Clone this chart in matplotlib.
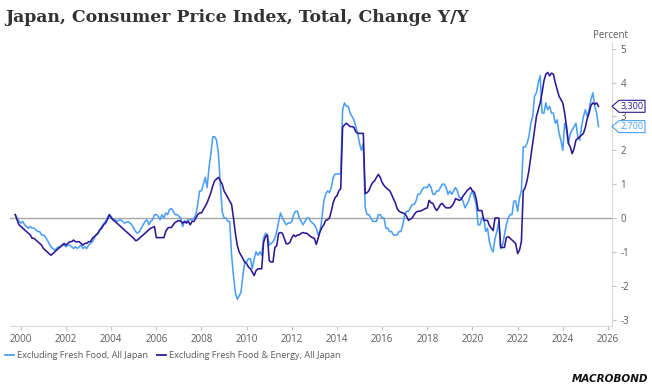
import matplotlib
matplotlib.use("Agg")
import matplotlib.pyplot as plt
import numpy as np
from matplotlib.patches import Polygon
from matplotlib.lines import Line2D

# ---------------- data (monthly, Oct 1999 .. Aug 2025) ----------------
start_year, start_month = 1999, 10

ex_fresh_food = [
    0.1, 0.0, -0.1,
    -0.15, -0.1, -0.2, -0.25, -0.3, -0.25, -0.3, -0.3, -0.35, -0.4, -0.4, -0.5,
    -0.5, -0.55, -0.65, -0.75, -0.85, -0.9, -0.95, -0.9, -0.85, -0.85, -0.8, -0.8,
    -0.85, -0.8, -0.8, -0.85, -0.9, -0.85, -0.9, -0.85, -0.8, -0.9, -0.85, -0.9,
    -0.8, -0.75, -0.7, -0.6, -0.5, -0.45, -0.35, -0.25, -0.17, -0.1, 0.0, 0.1,
    0.05, -0.05, -0.05, -0.1, -0.07, -0.05, -0.1, -0.15, -0.13, -0.1, -0.15, -0.2,
    -0.3, -0.4, -0.45, -0.4, -0.3, -0.2, -0.1, -0.05, -0.2, -0.1, -0.05, 0.1,
    0.1, 0.05, -0.05, 0.1, 0.0, 0.15, 0.1, 0.25, 0.28, 0.2, 0.1, 0.1,
    0.05, 0.0, -0.25, -0.1, -0.1, -0.05, -0.05, -0.05, 0.0, 0.1, 0.4, 0.8,
    0.8, 1.0, 1.2, 0.9, 1.5, 1.9, 2.4, 2.4, 2.3, 1.9, 1.0, 0.2,
    0.0, 0.0, -0.1, -0.1, -1.1, -1.7, -2.2, -2.4, -2.3, -2.2, -1.7, -1.3,
    -1.3, -1.2, -1.2, -1.5, -1.2, -1.0, -1.1, -1.0, -1.1, -0.6, -0.45, -0.5,
    -0.8, -0.75, -0.7, -0.6, -0.4, -0.1, 0.15, 0.0, -0.1, -0.2, -0.15, -0.15,
    -0.1, 0.1, 0.2, 0.2, 0.0, -0.1, -0.2, -0.1, 0.0, 0.0, -0.1, -0.15,
    -0.2, -0.3, -0.5, -0.4, 0.0, 0.5, 0.7, 0.8, 0.75, 0.9, 1.2, 1.3,
    1.3, 1.3, 1.3, 3.2, 3.4, 3.3, 3.3, 3.1, 3.0, 2.9, 2.7, 2.5,
    2.2, 2.0, 2.2, 0.3, 0.1, 0.1, 0.0, -0.1, -0.1, -0.1, 0.1, 0.1,
    0.0, 0.0, -0.3, -0.3, -0.4, -0.4, -0.5, -0.5, -0.5, -0.4, -0.4, -0.2,
    0.1, 0.2, 0.2, 0.3, 0.4, 0.4, 0.5, 0.7, 0.7, 0.8, 0.9, 0.9,
    0.9, 1.0, 0.9, 0.7, 0.7, 0.8, 0.8, 0.9, 1.0, 1.0, 0.9, 0.7,
    0.8, 0.7, 0.8, 0.9, 0.8, 0.6, 0.6, 0.5, 0.3, 0.4, 0.5, 0.7,
    0.8, 0.6, 0.4, -0.2, -0.2, 0.0, 0.0, -0.4, -0.3, -0.7, -0.9, -1.0,
    -0.6, -0.4, -0.1, -0.9, -0.8, -0.5, -0.2, 0.0, 0.1, 0.1, 0.5, 0.5,
    0.2, 0.6, 0.8, 2.1, 2.1, 2.2, 2.4, 2.8, 3.0, 3.6, 3.7, 4.0,
    4.2, 3.1, 3.1, 3.4, 3.2, 3.3, 3.1, 3.1, 2.8, 2.9, 2.5, 2.3,
    2.0, 2.8, 2.6, 2.2, 2.5, 2.6, 2.7, 2.8, 2.4, 2.3, 2.7, 3.0,
    3.2, 3.0, 3.2, 3.5, 3.7, 3.3, 3.1, 2.7,
]

ex_fresh_food_energy = [
    0.1, -0.05, -0.2,
    -0.25, -0.3, -0.35, -0.4, -0.45, -0.5, -0.6, -0.6, -0.65, -0.7, -0.75, -0.8,
    -0.9, -0.95, -1.0, -1.05, -1.1, -1.05, -1.0, -0.95, -0.9, -0.85, -0.8, -0.75,
    -0.8, -0.75, -0.7, -0.7, -0.65, -0.7, -0.7, -0.7, -0.75, -0.8, -0.75, -0.75,
    -0.7, -0.7, -0.6, -0.55, -0.5, -0.45, -0.35, -0.3, -0.2, -0.15, -0.05, 0.1,
    0.0, -0.05, -0.1, -0.15, -0.2, -0.25, -0.3, -0.35, -0.4, -0.45, -0.5, -0.55,
    -0.6, -0.67, -0.65, -0.6, -0.55, -0.5, -0.45, -0.4, -0.35, -0.3, -0.28, -0.25,
    -0.58, -0.58, -0.58, -0.58, -0.58, -0.4, -0.3, -0.28, -0.28, -0.2, -0.13, -0.1,
    -0.07, -0.1, -0.15, -0.1, -0.15, -0.1, -0.2, -0.1, -0.1, 0.0, 0.1, 0.15,
    0.15, 0.25, 0.35, 0.45, 0.6, 0.75, 0.95, 1.1, 1.15, 1.2, 1.1, 1.0,
    0.8, 0.7, 0.6, 0.5, 0.4, 0.0, -0.45, -0.8, -1.0, -1.1, -1.2, -1.3,
    -1.35, -1.45, -1.5, -1.6, -1.7, -1.55, -1.5, -1.5, -1.5, -0.72, -0.55, -0.5,
    -1.26, -1.3, -1.3, -0.87, -0.82, -0.45, -0.43, -0.45, -0.6, -0.76, -0.76, -0.72,
    -0.58, -0.5, -0.55, -0.5, -0.5, -0.45, -0.43, -0.45, -0.45, -0.5, -0.55, -0.58,
    -0.6, -0.78, -0.6, -0.4, -0.28, -0.2, -0.07, -0.05, 0.0, 0.2, 0.46, 0.6,
    0.66, 0.8, 0.87, 2.68, 2.75, 2.8, 2.75, 2.7, 2.7, 2.68, 2.55, 2.5,
    2.5, 2.5, 2.5, 0.72, 0.75, 0.81, 0.95, 1.05, 1.1, 1.2, 1.29, 1.2,
    1.05, 0.96, 0.9, 0.85, 0.81, 0.7, 0.57, 0.45, 0.28, 0.2, 0.17, 0.15,
    0.13, 0.05, -0.07, -0.03, 0.0, 0.1, 0.17, 0.2, 0.2, 0.22, 0.25, 0.28,
    0.3, 0.52, 0.45, 0.43, 0.3, 0.22, 0.3, 0.4, 0.43, 0.35, 0.3, 0.3,
    0.3, 0.35, 0.43, 0.57, 0.55, 0.52, 0.55, 0.65, 0.72, 0.8, 0.85, 0.9,
    0.8, 0.76, 0.57, 0.22, 0.22, 0.22, -0.07, -0.07, -0.07, -0.22, -0.3, -0.37,
    0.0, 0.0, 0.0, -0.87, -0.87, -0.87, -0.58, -0.55, -0.6, -0.65, -0.7, -0.76,
    -1.05, -0.95, -0.7, 0.8, 0.9, 1.1, 1.4, 1.8, 2.2, 2.6, 3.0, 3.2,
    3.4, 3.7, 4.05, 4.25, 4.3, 4.2, 4.28, 4.25, 4.0, 3.8, 3.6, 3.5,
    3.4, 3.1, 2.7, 2.2, 2.1, 1.9, 2.05, 2.3, 2.35, 2.4, 2.45, 2.5,
    2.68, 2.94, 3.1, 3.33, 3.4, 3.36, 3.4, 3.3,
]

series_names = ["Excluding Fresh Food, All Japan",
                "Excluding Fresh Food & Energy, All Japan"]
year_ticks = list(range(2000, 2027, 2))
value_ticks = [-3, -2, -1, 0, 1, 2, 3, 4, 5]
last_labels = ["2,700", "3,300"]

# ---------------- styling ----------------
LIGHT = "#4a9ff5"
DARK = "#2d1795"
GREY = "#595959"
FONT = ["Open Sans", "DejaVu Sans"]

plt.rcParams["font.family"] = FONT

W, H = 652, 388
fig = plt.figure(figsize=(W / 100, H / 100), dpi=100)
ax = fig.add_axes([10 / W, 1 - 326 / H, (612 - 10) / W, (326 - 43) / H])

n = len(ex_fresh_food)
t = start_year + (start_month - 1) / 12 + np.arange(n) / 12.0

ax.axhline(0, color="#a6a6a6", lw=1.0, zorder=1)
ax.plot(t, ex_fresh_food, color=LIGHT, lw=1.15, zorder=3)
ax.plot(t[:len(ex_fresh_food_energy)], ex_fresh_food_energy, color=DARK, lw=1.15, zorder=4)

ax.set_xlim(1999.52, 2026.18)
ax.set_ylim(-3.19, 5.17)

for s in ["top", "left"]:
    ax.spines[s].set_visible(False)
ax.spines["right"].set_color("#d9d9d9")
ax.spines["bottom"].set_color("#d9d9d9")
ax.yaxis.tick_right()
ax.set_yticks(value_ticks)
ax.set_yticklabels([str(v) for v in value_ticks])
ax.set_xticks(year_ticks)
ax.set_xticklabels([str(y) for y in year_ticks])
ax.tick_params(axis="both", colors="#bfbfbf", labelcolor=GREY, labelsize=7,
               length=3, width=0.8, direction="out")
ax.tick_params(axis="y", pad=3)
ax.tick_params(axis="x", pad=3)

fig.text(611 / W, 1 - 35 / H, "Percent", ha="center", va="center",
         fontsize=7, color=GREY)

fig.text(5 / W, 1 - 17 / H, "Japan, Consumer Price Index, Total, Change Y/Y",
         ha="left", va="center", fontsize=12.4, fontweight="bold",
         family=["DejaVu Serif"], color="#333333")

# value tags at right axis
for vals, col, lab in [(ex_fresh_food, LIGHT, last_labels[0]),
                       (ex_fresh_food_energy, DARK, last_labels[1])]:
    px, py = ax.transData.transform((2026.18, vals[-1]))
    x0 = px
    hh = 6.0
    verts = [(x0, py), (x0 + 7, py + hh), (x0 + 33, py + hh),
             (x0 + 33, py - hh), (x0 + 7, py - hh)]
    poly = Polygon(verts, closed=True, facecolor="white", edgecolor=col,
                   lw=0.8, transform=None, zorder=10)
    fig.add_artist(poly)
    fig.text((x0 + 20) / W, py / H, lab, ha="center", va="center",
             fontsize=6.5, color=col, zorder=11)

handles = [Line2D([], [], color=LIGHT, lw=1.3), Line2D([], [], color=DARK, lw=1.3)]
leg = fig.legend(handles, series_names, loc="center left",
                 bbox_to_anchor=(3 / W, 1 - 356 / H), ncol=2, frameon=False,
                 fontsize=6.6, handlelength=1.0, handletextpad=0.3,
                 columnspacing=1.0, borderaxespad=0, borderpad=0.2)
for txt in leg.get_texts():
    txt.set_color(GREY)

fig.text(648 / W, 1 - 379 / H, "MACROBOND", ha="right", va="center",
         fontsize=7.5, fontweight="heavy", style="italic",
         family=["DejaVu Sans"], color="#111111")

fig.savefig("out.png", dpi=100)
